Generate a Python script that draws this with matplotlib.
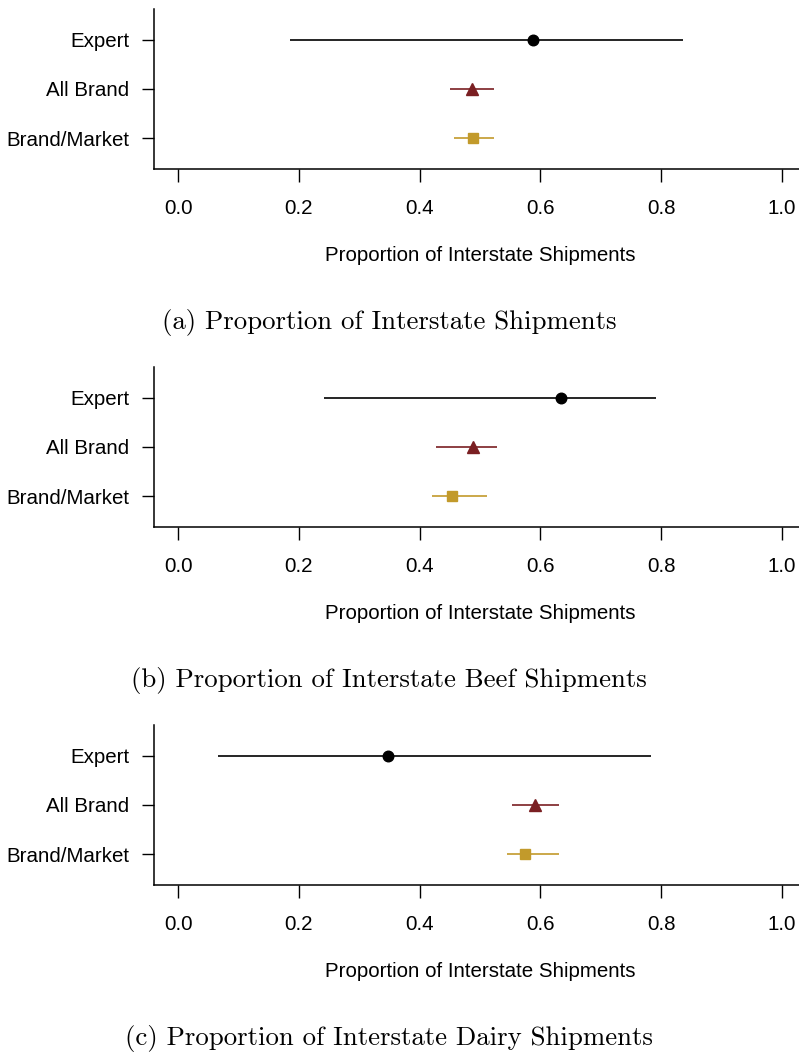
import matplotlib
matplotlib.use("Agg")
import matplotlib.pyplot as plt

plt.rcParams['font.family'] = ['Liberation Sans', 'DejaVu Sans']

labels = ["Expert", "All Brand", "Brand/Market"]
colors = ["black", "#7a1f22", "#c29a2b"]
markers = ["o", "^", "s"]
msizes = [7.6, 8.2, 7.0]

# point estimate, lower, upper for each row (Expert, All Brand, Brand/Market)
est_a = [0.588, 0.486, 0.488]
lo_a = [0.185, 0.450, 0.457]
hi_a = [0.836, 0.523, 0.523]

est_b = [0.634, 0.488, 0.454]
lo_b = [0.242, 0.427, 0.421]
hi_b = [0.791, 0.528, 0.512]

est_c = [0.348, 0.591, 0.575]
lo_c = [0.066, 0.553, 0.545]
hi_c = [0.783, 0.631, 0.631]

captions = ["(a) Proportion of Interstate Shipments",
            "(b) Proportion of Interstate Beef Shipments",
            "(c) Proportion of Interstate Dairy Shipments"]
xticks = [0.0, 0.2, 0.4, 0.6, 0.8, 1.0]

W, H = 799, 1053
fig = plt.figure(figsize=(W / 100, H / 100), dpi=100)

panels = [(est_a, lo_a, hi_a), (est_b, lo_b, hi_b), (est_c, lo_c, hi_c)]
tops = [9, 367, 725]

for (est, lo, hi), top, cap in zip(panels, tops, captions):
    bottom = top + 160
    ax = fig.add_axes([154 / W, 1 - bottom / H, (806 - 154) / W, 160 / H])
    ys = [3, 2, 1]
    for i in range(3):
        ax.plot([lo[i], hi[i]], [ys[i], ys[i]], color=colors[i], lw=1.2,
                solid_capstyle='butt', zorder=2)
        ax.plot(est[i], ys[i], marker=markers[i], color=colors[i],
                markersize=msizes[i], linestyle='none', zorder=3)
    ax.set_xlim(-0.04, 1.04)
    ax.set_ylim(0.37, 3.63)
    ax.set_yticks(ys)
    ax.set_yticklabels(labels, fontsize=14.8)
    ax.set_xticks(xticks)
    ax.set_xticklabels([f"{t:.1f}" for t in xticks], fontsize=14.8)
    ax.spines['top'].set_visible(False)
    ax.spines['right'].set_visible(False)
    for s in ['left', 'bottom']:
        ax.spines[s].set_linewidth(1.1)
    ax.tick_params(axis='x', direction='out', length=9.4, width=1.0, pad=12.5)
    ax.tick_params(axis='y', direction='out', length=8.6, width=1.0, pad=9)
    ax.set_xlabel("Proportion of Interstate Shipments", fontsize=14.8, labelpad=20)
    fig.text(389 / W, 1 - (top + 314) / H, cap, family='cmr10', fontsize=19.3,
             ha='center', va='center')

fig.savefig("out.png", dpi=100)
